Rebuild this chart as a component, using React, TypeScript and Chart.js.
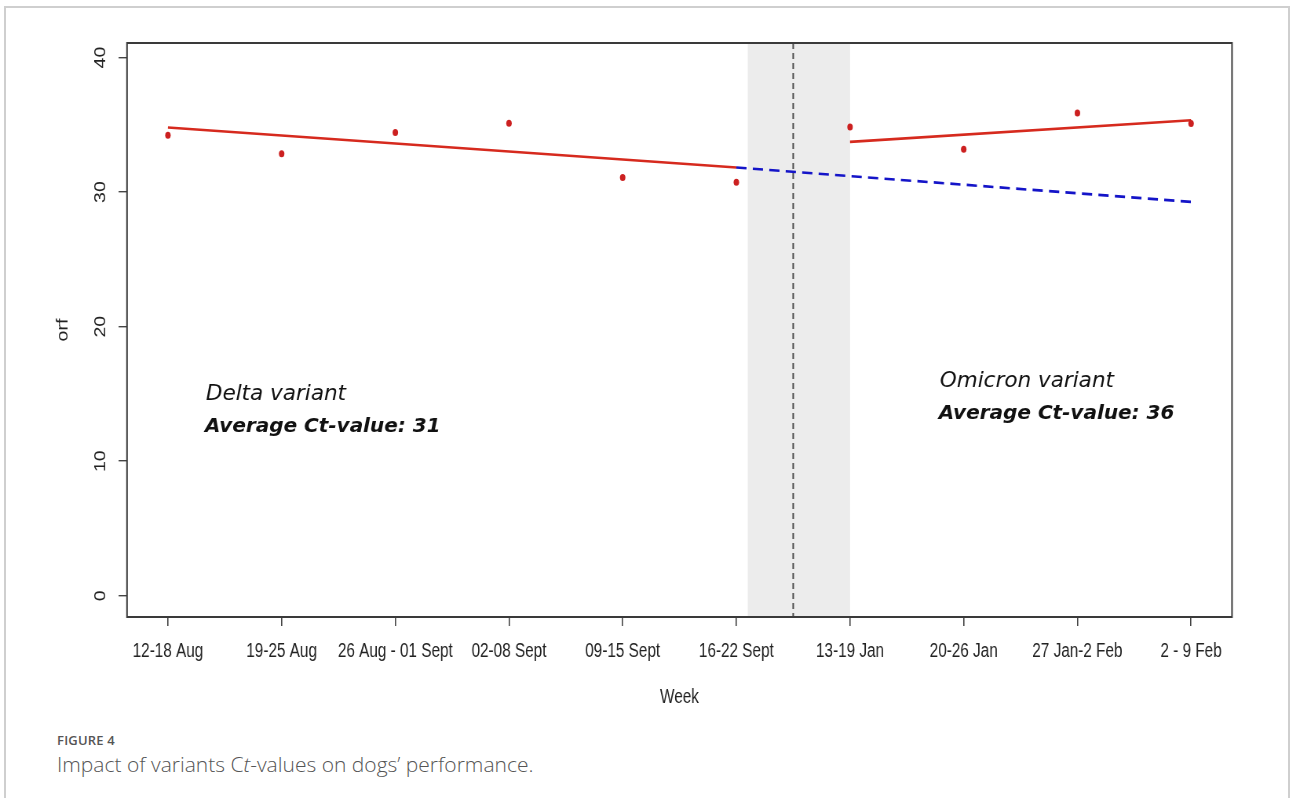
import React, { useEffect, useRef } from 'react';
import { Chart, registerables } from 'chart.js';

Chart.register(...registerables);

// ---- data ----
const weekLabels = [
  '12-18 Aug', '19-25 Aug', '26 Aug - 01 Sept', '02-08 Sept', '09-15 Sept',
  '16-22 Sept', '13-19 Jan', '20-26 Jan', '27 Jan-2 Feb', '2 - 9 Feb',
];
const weekIndex = [1, 2, 3, 4, 5, 6, 7, 8, 9, 10];
const orfValues = [34.22, 32.84, 34.42, 35.11, 31.08, 30.73, 34.84, 33.18, 35.88, 35.09];
const deltaFitWeeks = [1, 6];
const deltaFitValues = [34.8, 31.83];
const counterfactualWeeks = [6, 10];
const counterfactualValues = [31.83, 29.27];
const omicronFitWeeks = [7, 10];
const omicronFitValues = [33.73, 35.34];
const yTickValues = [0, 10, 20, 30, 40];
const gapWeeks = [6.1, 7.0];
const interruptionWeek = 6.5;
const annotationTexts = ['Delta variant', 'Average Ct-value: 31', 'Omicron variant', 'Average Ct-value: 36'];
const annotationWeeks = [1.334, 1.325, 7.79, 7.78];
const annotationValues = [14.55, 12.18, 15.54, 13.14];
const annotationBold = [false, true, false, true];

// ---- presentation ----
const SQUEEZE = 0.785; // the original figure is horizontally compressed
const PAGE_W = 1290;
const CANVAS_W = Math.round(PAGE_W / SQUEEZE);
const CANVAS_H = 720;

const toXY = (xs: number[], ys: number[]) => xs.map((x, i) => ({ x, y: ys[i] }));

const gapPlugin = {
  id: 'gapBand',
  beforeDatasetsDraw(chart: any) {
    const { ctx, chartArea, scales } = chart;
    const x0 = scales.x.getPixelForValue(gapWeeks[0]);
    const x1 = scales.x.getPixelForValue(gapWeeks[1]);
    ctx.save();
    ctx.fillStyle = '#ececec';
    ctx.fillRect(x0, chartArea.top, x1 - x0, chartArea.bottom - chartArea.top);
    const xm = scales.x.getPixelForValue(interruptionWeek);
    ctx.strokeStyle = '#4a4a4a';
    ctx.lineWidth = 2;
    ctx.setLineDash([6, 4]);
    ctx.beginPath();
    ctx.moveTo(xm, chartArea.top);
    ctx.lineTo(xm, chartArea.bottom);
    ctx.stroke();
    ctx.restore();
  },
};

const boxPlugin = {
  id: 'plotBox',
  afterDraw(chart: any) {
    const { ctx, chartArea } = chart;
    ctx.save();
    ctx.strokeStyle = '#3a3a3a';
    ctx.lineWidth = 2;
    ctx.strokeRect(chartArea.left, chartArea.top, chartArea.right - chartArea.left, chartArea.bottom - chartArea.top);
    ctx.restore();
  },
};

const annotationPlugin = {
  id: 'variantText',
  afterDatasetsDraw(chart: any) {
    const { ctx, scales } = chart;
    annotationTexts.forEach((text, i) => {
      const px = scales.x.getPixelForValue(annotationWeeks[i]);
      const py = scales.y.getPixelForValue(annotationValues[i]);
      ctx.save();
      ctx.translate(px, py);
      ctx.scale(1 / SQUEEZE, 1);
      ctx.font = annotationBold[i]
        ? 'italic bold 20px "DejaVu Sans", Verdana, sans-serif'
        : 'italic 21.5px "DejaVu Sans", Verdana, sans-serif';
      ctx.fillStyle = '#111';
      ctx.textAlign = 'left';
      ctx.textBaseline = 'alphabetic';
      ctx.fillText(text, 0, 0);
      ctx.restore();
    });
  },
};

const axisFont = { family: '"Liberation Sans", Arial, sans-serif', size: 19.5 };

export default function App() {
  const canvasRef = useRef<HTMLCanvasElement | null>(null);

  useEffect(() => {
    if (!canvasRef.current) return;
    const chart = new Chart(canvasRef.current, {
      type: 'scatter',
      data: {
        datasets: [
          {
            label: 'orf',
            data: toXY(weekIndex, orfValues),
            showLine: false,
            pointRadius: 3.5,
            pointBackgroundColor: '#cc2020',
            pointBorderWidth: 0,
          },
          {
            label: 'Delta fit',
            data: toXY(deltaFitWeeks, deltaFitValues),
            showLine: true,
            borderColor: '#d62a1e',
            borderWidth: 2.6,
            pointRadius: 0,
          },
          {
            label: 'Omicron fit',
            data: toXY(omicronFitWeeks, omicronFitValues),
            showLine: true,
            borderColor: '#d62a1e',
            borderWidth: 2.6,
            pointRadius: 0,
          },
          {
            label: 'Counterfactual',
            data: toXY(counterfactualWeeks, counterfactualValues),
            showLine: true,
            borderColor: '#1414c8',
            borderWidth: 2.6,
            borderDash: [13, 8],
            pointRadius: 0,
          },
        ],
      },
      plugins: [gapPlugin, annotationPlugin, boxPlugin],
      options: {
        animation: false,
        responsive: false,
        devicePixelRatio: 1,
        layout: { padding: { left: 61.8, right: CANVAS_W - 1232 / SQUEEZE, top: 43, bottom: 3 } },
        plugins: { legend: { display: false }, tooltip: { enabled: false } },
        scales: {
          x: {
            type: 'linear',
            min: 0.64,
            max: 10.36,
            afterBuildTicks: (scale: any) => {
              scale.ticks = weekIndex.map((v) => ({ value: v }));
            },
            afterFit: (scale: any) => {
              scale.height = 100;
            },
            ticks: {
              autoSkip: false,
              minRotation: 0,
              maxRotation: 0,
              padding: 14,
              color: '#222',
              font: axisFont,
              callback: (v: any) => weekLabels[Number(v) - 1] ?? '',
            },
            grid: { drawOnChartArea: false, drawTicks: true, tickLength: 9, color: '#444', lineWidth: 1.6 },
            border: { display: false },
            title: { display: true, text: 'Week', color: '#222', font: axisFont, padding: { top: 0, bottom: 8 } },
          },
          y: {
            type: 'linear',
            min: -1.58,
            max: 41.08,
            afterBuildTicks: (scale: any) => {
              scale.ticks = yTickValues.map((v) => ({ value: v }));
            },
            afterFit: (scale: any) => {
              scale.width = 100;
            },
            ticks: {
              minRotation: 90,
              maxRotation: 90,
              crossAlign: 'center',
              padding: 12,
              color: '#222',
              font: axisFont,
            },
            grid: { drawOnChartArea: false, drawTicks: true, tickLength: 10.7, color: '#444', lineWidth: 1.4 },
            border: { display: false },
            title: { display: true, text: 'orf', color: '#222', font: axisFont, padding: { top: 7, bottom: 0 } },
          },
        },
      },
    } as any);
    return () => chart.destroy();
  }, []);

  return (
    <div style={{ position: 'fixed', left: 0, top: 0, width: PAGE_W, height: 798, background: '#fff', overflow: 'hidden' }}>
      <div
        style={{
          position: 'absolute', left: 4, top: 6, width: 1286, height: 840,
          border: '2px solid #cfcfcf', boxSizing: 'border-box',
        }}
      />
      <div style={{ position: 'absolute', left: 0, top: 0, width: CANVAS_W, height: CANVAS_H, transform: `scaleX(${SQUEEZE})`, transformOrigin: '0 0' }}>
        <canvas ref={canvasRef} width={CANVAS_W} height={CANVAS_H} style={{ display: 'block', width: CANVAS_W, height: CANVAS_H }} />
      </div>
      <div
        style={{
          position: 'absolute', left: 57, top: 731, fontFamily: '"Open Sans", sans-serif',
          fontSize: 13, fontWeight: 600, color: '#555', letterSpacing: 0.2, lineHeight: '18px',
        }}
      >
        FIGURE 4
      </div>
      <div
        style={{
          position: 'absolute', left: 57, top: 750, fontFamily: '"Open Sans", sans-serif',
          fontSize: 21, fontWeight: 300, color: '#555', lineHeight: '29px', whiteSpace: 'nowrap',
        }}
      >
        Impact of variants C<i>t</i>-values on dogs’ performance.
      </div>
    </div>
  );
}
